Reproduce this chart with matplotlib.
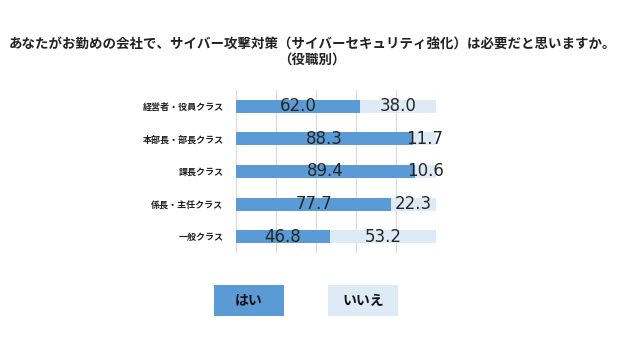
import matplotlib.pyplot as plt
from matplotlib.patches import Rectangle

plt.rcParams['font.family'] = ['Noto Sans CJK JP', 'DejaVu Sans']

# Data
categories = ['経営者・役員クラス', '本部長・部長クラス', '課長クラス', '係長・主任クラス', '一般クラス']
yes_values = [62.0, 88.3, 89.4, 77.7, 46.8]
no_values = [38.0, 11.7, 10.6, 22.3, 53.2]
series_names = ['はい', 'いいえ']
colors = ['#5B9BD5', '#DEEBF7']

W, H = 624, 351
fig = plt.figure(figsize=(W / 100, H / 100), dpi=100)

# axes placed in pixel terms
left, right, top, bottom = 236, 436, 90, 253
ax = fig.add_axes([left / W, 1 - bottom / H, (right - left) / W, (bottom - top) / H])

y = list(range(len(categories)))
ax.barh(y, yes_values, height=0.4, color=colors[0], zorder=2)
ax.barh(y, no_values, left=yes_values, height=0.4, color=colors[1], zorder=2)

for i in y:
    ax.text(yes_values[i] / 2, i, f'{yes_values[i]:.1f}', ha='center', va='center',
            fontsize=12, family='DejaVu Sans', color='#262626', zorder=3)
    ax.text(yes_values[i] + no_values[i] / 2, i, f'{no_values[i]:.1f}', ha='center',
            va='center', fontsize=12, family='DejaVu Sans', color='#262626', zorder=3)

ax.set_xlim(0, 100)
ax.set_ylim(4.5, -0.5)
ax.set_xticks(range(0, 101, 20))
ax.xaxis.grid(True, color='#D9D9D9', linewidth=0.8, zorder=0)
ax.set_xticklabels([])
ax.set_yticks(y)
ax.set_yticklabels(categories, fontsize=6.5, fontweight='bold', color='#222222')
ax.tick_params(length=0, pad=9)
for s in ax.spines.values():
    s.set_visible(False)

fig.text(0.5, 1 - 45 / H, 'あなたがお勤めの会社で、サイバー攻撃対策（サイバーセキュリティ強化）は必要だと思いますか。',
         ha='center', va='center', fontsize=9.7, fontweight='bold', color='#222222')
fig.text(0.5, 1 - 60 / H, '（役職別）', ha='center', va='center', fontsize=9.7,
         fontweight='bold', color='#222222')

# legend boxes
boxes = [(214, 284), (328, 398)]
for (x0, x1), name, c in zip(boxes, series_names, colors):
    fig.add_artist(Rectangle((x0 / W, 1 - 316 / H), (x1 - x0) / W, 31 / H,
                             transform=fig.transFigure, facecolor=c, edgecolor='none'))
    fig.text((x0 + x1) / 2 / W, 1 - 300.5 / H, name, ha='center', va='center',
             fontsize=10, fontweight='bold', color='#111111')

fig.savefig('out.png', dpi=100)
